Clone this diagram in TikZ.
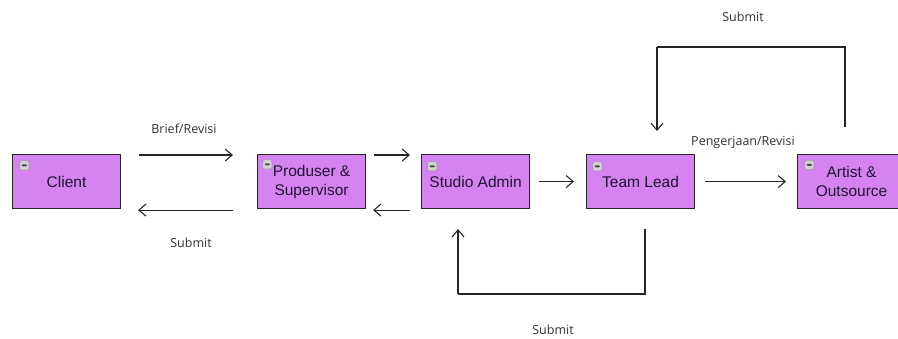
\documentclass[tikz,border=0pt]{standalone}
\usepackage{fontspec}
\setmainfont{Liberation Sans}
\newfontfamily\lblfont{Open Sans}
\usetikzlibrary{arrows.meta}
\definecolor{boxfill}{RGB}{213,131,240}
\definecolor{boxtext}{RGB}{30,20,50}
\definecolor{lbltext}{RGB}{50,50,50}
\definecolor{iconfill}{RGB}{210,210,215}
\tikzset{
  x=1pt, y=-1pt,
  box/.style={draw=black!85, line width=1.1pt, fill=boxfill, minimum width=108pt, minimum height=54pt,
    inner sep=0pt, text=boxtext, font=\fontsize{15.5}{19}\selectfont, align=center},
  arr/.style={line width=1.1pt, draw=black!85, -{Straight Barb[length=7pt,width=12pt,line width=1.1pt]}},
  lnk/.style={line width=1.1pt, draw=black!85},
  lbl/.style={text=lbltext, font=\lblfont\fontsize{12.5}{15}\selectfont, inner sep=0pt},
  minusicon/.style={draw=gray!80, line width=0.6pt, fill=iconfill, rounded corners=1pt, minimum width=9pt, minimum height=9pt, inner sep=0pt,
    path picture={\fill[black!70] ([xshift=1.8pt,yshift=-1pt]path picture bounding box.west) rectangle ([xshift=-1.8pt,yshift=1pt]path picture bounding box.east);}}
}
\begin{document}
\begin{tikzpicture}
\useasboundingbox (0,0) rectangle (898,338);
% boxes
\node[box, anchor=north west] (client) at (12,154) {Client};
\node[box, anchor=north west] (prod) at (257,154) {Produser \&\\Supervisor};
\node[box, anchor=north west] (studio) at (421,154) {Studio Admin};
\node[box, anchor=north west] (lead) at (586,154) {Team Lead};
\node[box, anchor=north west] (artist) at (797,154) {Artist \&\\Outsource};
% icons
\node[minusicon, anchor=north west] (ic1) at ([xshift=7.5pt,yshift=-6.5pt]client.north west) {};
\node[minusicon, anchor=north west] (ic2) at ([xshift=5.5pt,yshift=-5.5pt]prod.north west) {};
\node[minusicon, anchor=north west] (ic3) at ([xshift=6.5pt,yshift=-7.5pt]studio.north west) {};
\node[minusicon, anchor=north west] (ic4) at ([xshift=6.5pt,yshift=-7.5pt]lead.north west) {};
\node[minusicon, anchor=north west] (ic5) at ([xshift=7.5pt,yshift=-6pt]artist.north west) {};
% horizontal arrows
\draw[arr] ([xshift=18pt,yshift=-1pt]client.north east) -- ([xshift=-24pt,yshift=-1pt]prod.north west);
\draw[arr] ([xshift=-24pt,yshift=-1pt]prod.south west) -- ([xshift=17pt,yshift=-1pt]client.south east);
\draw[arr] ([xshift=8pt,yshift=-1pt]prod.north east) -- ([xshift=-11pt,yshift=-1pt]studio.north west);
\draw[arr] ([xshift=-11pt,yshift=-1pt]studio.south west) -- ([xshift=7pt,yshift=-1pt]prod.south east);
\draw[arr] ([xshift=9pt]studio.east) -- ([xshift=-12pt]lead.west);
\draw[arr] ([xshift=10pt]lead.east) -- ([xshift=-11pt]artist.west);
% loops
\coordinate (t1) at (845,47);
\coordinate (t2) at (657,47);
\draw[lnk] ([yshift=27pt]artist.north -| t1) -- (t1) -- (t2);
\draw[arr] (t2) -- ([yshift=23pt]lead.north -| t2);
\coordinate (b1) at (645,294);
\coordinate (b2) at (458,294);
\draw[lnk] ([yshift=-20pt]lead.south -| b1) -- (b1) -- (b2);
\draw[arr] (b2) -- ([yshift=-20pt]studio.south -| b2);
% labels
\node[lbl] (l1) at (184,129) {Brief/Revisi};
\node[lbl] (l2) at (191,243) {Submit};
\node[lbl] (l3) at (743,142) {Pengerjaan/Revisi};
\node[lbl] (l4) at (743,17) {Submit};
\node[lbl] (l5) at (553,330) {Submit};
\end{tikzpicture}
\end{document}
